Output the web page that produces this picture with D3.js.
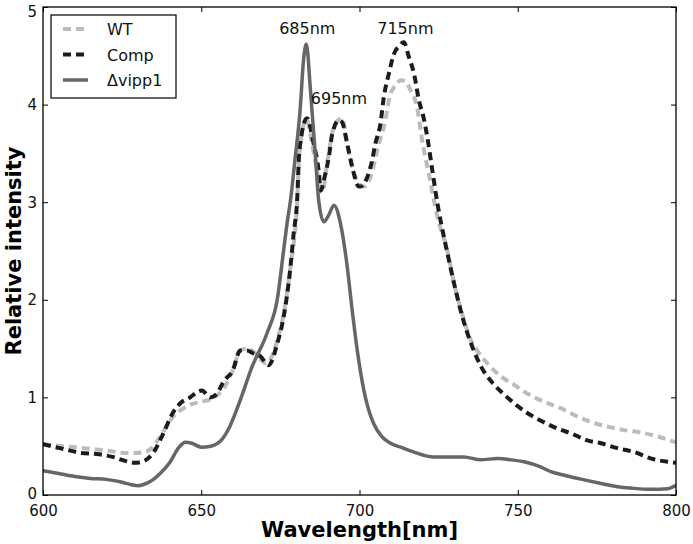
<!DOCTYPE html>
<html>
<head>
<meta charset="utf-8">
<script src="https://cdn.jsdelivr.net/npm/d3@7"></script>
<style>
  html, body { margin: 0; padding: 0; background: #fff; }
  svg { display: block; font-family: "DejaVu Sans", sans-serif; }
</style>
</head>
<body>
<svg id="chart" width="693" height="544"></svg>
<script>
// ---- data ----
const seriesNames = ["WT", "Comp", "\u0394vipp1"];
const xTicks = [600, 650, 700, 750, 800];
const yTicks = [0, 1, 2, 3, 4, 5];

const wtWavelength = [600,606,613,621,626,629,632,634,636,638,641,644,647,650,653,656,658,660,662.3,664.4,666.5,669,670.3,672,674,676,678.2,680.3,681,683.2,685,687,688.2,690,692,694.5,696,698,700,701.5,703.5,706.1,707.7,709.8,711.5,713,714.5,716.1,718.2,719.8,721.9,724.6,727.8,730,732.5,735,737.2,740.9,744.5,748.8,753,758.3,763.6,767.8,773.1,778.4,783.6,788.9,794.2,799,800];
const wtValue      = [0.52,0.50,0.48,0.45,0.43,0.43,0.44,0.47,0.55,0.65,0.80,0.88,0.93,0.955,0.98,1.05,1.14,1.28,1.48,1.50,1.47,1.38,1.35,1.40,1.58,1.85,2.34,3.00,3.50,3.85,3.60,3.25,3.10,3.45,3.78,3.86,3.62,3.33,3.18,3.16,3.26,3.60,3.77,4.11,4.20,4.25,4.24,4.15,3.97,3.63,3.29,2.85,2.50,2.15,1.85,1.60,1.48,1.33,1.22,1.13,1.04,0.955,0.89,0.82,0.75,0.70,0.665,0.64,0.60,0.55,0.54];

const compWavelength = [600,604,608,612,617,622,626,629,632,635,638,641,643.4,646.5,648.5,650.2,652.8,655,657,660,662.3,664.4,666.5,668.7,671.3,674,676,678.2,679.2,680.3,681,683.4,685.5,687.2,687.7,689.2,690.3,691.4,693.5,694.5,696.1,697.7,699.8,700.3,702.6,704,705,706.6,707.7,709.3,710.9,712.5,714,715.6,717.2,718.8,720.3,721.4,723,724.6,726.7,727.7,730,732.3,735.5,738.5,742,745.7,750,753,758,762.6,767,772,776.3,781.5,786.8,792,797.4,800];
const compValue      = [0.52,0.49,0.46,0.43,0.42,0.39,0.35,0.33,0.35,0.44,0.63,0.84,0.94,1.00,1.05,1.07,1.00,1.04,1.16,1.28,1.48,1.48,1.45,1.42,1.33,1.55,1.82,2.34,2.68,3.02,3.53,3.86,3.60,3.29,3.12,3.29,3.46,3.70,3.84,3.82,3.60,3.36,3.16,3.16,3.27,3.43,3.60,3.80,4.08,4.32,4.52,4.60,4.64,4.49,4.32,4.04,3.86,3.67,3.33,2.99,2.64,2.49,2.15,1.85,1.53,1.31,1.15,1.03,0.91,0.84,0.75,0.68,0.63,0.56,0.53,0.48,0.44,0.375,0.34,0.33];

const vippWavelength = [600,605,610,615,620,622,625,628,630,632,634,637,640,643,645,647,650,653,656,659,662.3,666,670.8,674,676,677.1,678.2,679.7,681.3,682.3,683.2,684.5,686.1,687.1,688.7,690.3,691.9,694,696,697.7,699.3,701.4,703,704.5,707,709.8,713,717.2,723.5,728,733,738.3,743.6,748,752,757,760.4,765,771,776,781.5,786,792,797.4,800];
const vippValue      = [0.25,0.22,0.19,0.17,0.16,0.15,0.13,0.105,0.095,0.11,0.14,0.22,0.33,0.49,0.54,0.53,0.49,0.50,0.55,0.70,0.97,1.31,1.66,2.00,2.50,2.78,3.02,3.46,3.97,4.45,4.62,4.15,3.46,3.02,2.80,2.87,2.97,2.78,2.37,1.89,1.48,1.07,0.86,0.73,0.60,0.53,0.49,0.44,0.39,0.39,0.39,0.36,0.375,0.36,0.34,0.29,0.24,0.20,0.155,0.12,0.085,0.07,0.058,0.065,0.10];

const peakLabels = ["685nm", "695nm", "715nm"];
const peakLabelX = [683.5, 693.5, 714.5];
const peakLabelY = [4.72, 4.01, 4.72];

// ---- layout ----
const svg = d3.select("#chart");
const W = 693, H = 544;
const margin = { left: 43, right: 17, top: 7, bottom: 49 };
const pw = W - margin.left - margin.right;
const ph = H - margin.top - margin.bottom;

const x = d3.scaleLinear().domain([600, 800]).range([margin.left, margin.left + pw]);
const y = d3.scaleLinear().domain([0, 5]).range([margin.top + ph, margin.top]);

svg.append("defs").append("clipPath").attr("id", "clip")
  .append("rect").attr("x", margin.left).attr("y", margin.top).attr("width", pw).attr("height", ph);

const styles = [
  { color: "#bcbcbc", dash: "8,5", width: 4 },
  { color: "#1c1c1c", dash: "8,5", width: 4 },
  { color: "#666666", dash: null, width: 3.5 }
];
const series = [
  d3.zip(wtWavelength, wtValue),
  d3.zip(compWavelength, compValue),
  d3.zip(vippWavelength, vippValue)
];

const line = d3.line().x(d => x(d[0])).y(d => y(d[1])).curve(d3.curveMonotoneX);
const plot = svg.append("g").attr("clip-path", "url(#clip)");
series.forEach((s, i) => {
  plot.append("path").datum(s)
    .attr("d", line)
    .attr("fill", "none")
    .attr("stroke", styles[i].color)
    .attr("stroke-width", styles[i].width)
    .attr("stroke-dasharray", styles[i].dash)
    .attr("stroke-linejoin", "round");
});

// ---- axes (ticks inward, on all sides) ----
const tickLen = 5;
const xAxis = d3.axisBottom(x).tickValues(xTicks).tickSizeInner(-tickLen).tickSizeOuter(0).tickPadding(10).tickFormat(d3.format("d"));
const yAxis = d3.axisLeft(y).tickValues(yTicks).tickSizeInner(-tickLen).tickSizeOuter(0).tickPadding(6).tickFormat(d3.format("d"));
const xAxisTop = d3.axisTop(x).tickValues(xTicks).tickSizeInner(-tickLen).tickSizeOuter(0).tickFormat("");
const yAxisRight = d3.axisRight(y).tickValues(yTicks).tickSizeInner(-tickLen).tickSizeOuter(0).tickFormat("");

function styleAxis(g) {
  g.select(".domain").remove();
  g.selectAll(".tick line").attr("stroke", "#000").attr("stroke-width", 1);
  g.selectAll(".tick text").attr("fill", "#111").style("font-size", "15px").style("font-family", "DejaVu Sans, sans-serif");
}
svg.append("g").attr("transform", `translate(0,${margin.top + ph})`).call(xAxis).call(styleAxis);
const yAxisG = svg.append("g").attr("transform", `translate(${margin.left},0)`).call(yAxis).call(styleAxis);
svg.append("g").attr("transform", `translate(0,${margin.top})`).call(xAxisTop).call(styleAxis);
svg.append("g").attr("transform", `translate(${margin.left + pw},0)`).call(yAxisRight).call(styleAxis);

// keep the top "5" label inside the picture and lift "0" clear of "600"
yAxisG.selectAll("g.tick text").filter(d => d === 5).attr("dy", "0.6em");
yAxisG.selectAll("g.tick text").filter(d => d === 0).attr("dy", "0.2em");

// frame
svg.append("rect").attr("x", margin.left).attr("y", margin.top).attr("width", pw).attr("height", ph)
  .attr("fill", "none").attr("stroke", "#000").attr("stroke-width", 1.3);

// axis titles
svg.append("text").attr("x", margin.left + pw / 2).attr("y", 537)
  .attr("text-anchor", "middle").style("font-size", "21px").style("font-weight", "bold")
  .attr("fill", "#000").text("Wavelength[nm]");
svg.append("text").attr("transform", `translate(21,${margin.top + ph / 2}) rotate(-90)`)
  .attr("text-anchor", "middle").style("font-size", "21px").style("font-weight", "bold")
  .attr("fill", "#000").text("Relative intensity");

// peak annotations
peakLabels.forEach((t, i) => {
  svg.append("text").attr("x", x(peakLabelX[i])).attr("y", y(peakLabelY[i]))
    .attr("text-anchor", "middle").style("font-size", "16px").attr("fill", "#111").text(t);
});

// legend
const lg = svg.append("g");
lg.append("rect").attr("x", 51).attr("y", 15).attr("width", 125).attr("height", 83)
  .attr("fill", "#fff").attr("stroke", "#000").attr("stroke-width", 1.2);
seriesNames.forEach((name, i) => {
  const yy = 29 + i * 25.5;
  lg.append("line").attr("x1", 63).attr("x2", 88).attr("y1", yy).attr("y2", yy)
    .attr("stroke", styles[i].color).attr("stroke-width", styles[i].width)
    .attr("stroke-dasharray", styles[i].dash);
  lg.append("text").attr("x", 107).attr("y", yy + 6).style("font-size", "16px")
    .attr("fill", "#111").text(name);
});
</script>
</body>
</html>
